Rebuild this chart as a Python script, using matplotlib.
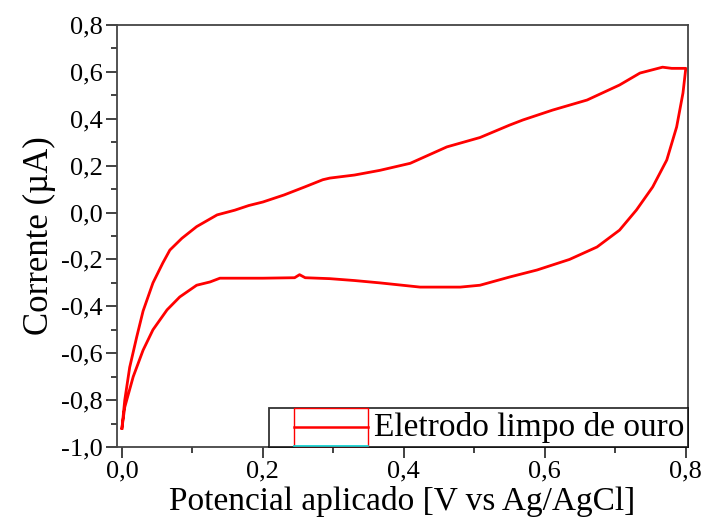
import matplotlib.pyplot as plt
from matplotlib.lines import Line2D
from matplotlib.patches import Rectangle
from matplotlib.legend_handler import HandlerBase
from matplotlib.ticker import MultipleLocator, FuncFormatter

plt.rcParams['font.family'] = ['Liberation Serif', 'DejaVu Serif']

# forward scan (0 -> 0.8 V)
v_fwd = [0.0, 0.004, 0.011, 0.021, 0.03, 0.044, 0.058, 0.068, 0.085, 0.106,
         0.135, 0.16, 0.18, 0.2, 0.23, 0.26, 0.285, 0.295, 0.33, 0.366, 0.409,
         0.461, 0.508, 0.55, 0.569, 0.611, 0.66, 0.706, 0.735, 0.767, 0.78, 0.8]
i_fwd = [-0.92, -0.80, -0.66, -0.53, -0.42, -0.30, -0.215, -0.16, -0.11, -0.06,
         -0.01, 0.01, 0.03, 0.045, 0.075, 0.11, 0.14, 0.147, 0.16, 0.18, 0.21,
         0.28, 0.32, 0.373, 0.395, 0.437, 0.48, 0.544, 0.595, 0.62, 0.615, 0.615]

# reverse scan (0.8 -> 0 V)
v_rev = [0.8, 0.796, 0.787, 0.773, 0.753, 0.73, 0.706, 0.674, 0.635, 0.589,
         0.55, 0.508, 0.48, 0.423, 0.366, 0.33, 0.295, 0.26, 0.252, 0.245,
         0.2, 0.153, 0.139, 0.125, 0.106, 0.082, 0.064, 0.044, 0.03, 0.016,
         0.004, 0.0]
i_rev = [0.615, 0.51, 0.365, 0.224, 0.109, 0.011, -0.075, -0.147, -0.20, -0.245,
         -0.275, -0.31, -0.318, -0.318, -0.30, -0.29, -0.282, -0.278, -0.265, -0.278,
         -0.28, -0.28, -0.28, -0.296, -0.31, -0.36, -0.415, -0.50, -0.587, -0.70,
         -0.83, -0.92]


class BoxLineHandler(HandlerBase):
    # open red box with a line through it, cyan edge along the bottom
    def create_artists(self, legend, orig_handle, xdescent, ydescent,
                       width, height, fontsize, trans):
        x0 = -xdescent + 0.225 * width
        x1 = width - xdescent
        y0 = -ydescent - 0.42 * height
        h = 1.6 * height
        box = Rectangle((x0, y0), x1 - x0, h,
                        facecolor='none', edgecolor='red', lw=1.0, transform=trans)
        mid = Line2D([x0, x1], [y0 + 0.5 * h] * 2,
                     color='red', lw=1.8, transform=trans)
        base = Line2D([x0, x1], [y0] * 2,
                      color='#00d8d8', lw=1.2, transform=trans)
        return [box, mid, base]


fig = plt.figure(figsize=(7.07, 5.27), dpi=100)
ax = fig.add_axes([0.1655, 0.1518, 0.8075, 0.8008])

ax.plot(v_fwd + v_rev, i_fwd + i_rev, color='red', lw=2)

ax.set_xlim(-0.007, 0.803)
ax.set_ylim(-1.0, 0.8)
ax.xaxis.set_major_locator(MultipleLocator(0.2))
ax.xaxis.set_minor_locator(MultipleLocator(0.1))
ax.yaxis.set_major_locator(MultipleLocator(0.2))
ax.yaxis.set_minor_locator(MultipleLocator(0.1))
comma = FuncFormatter(lambda val, pos: f"{val:.1f}".replace('.', ','))
ax.xaxis.set_major_formatter(comma)
ax.yaxis.set_major_formatter(comma)
ax.tick_params(which='both', direction='out', top=False, right=False,
               colors='#333333', labelcolor='black', labelsize=19, width=1.3,
               pad=2)
ax.tick_params(which='major', length=8)
ax.tick_params(which='minor', length=4)
for s in ax.spines.values():
    s.set_color('#444444')
    s.set_linewidth(1.3)

ax.set_xlabel('Potencial aplicado [V vs Ag/AgCl]', fontsize=24, labelpad=2)
ax.set_ylabel('Corrente (µA)', fontsize=25, labelpad=4)

proxy = Line2D([], [], color='red')
leg = ax.legend([proxy], ['Eletrodo limpo de ouro'], handler_map={Line2D: BoxLineHandler()},
                loc='lower right', fontsize=24, frameon=True, fancybox=False,
                borderaxespad=0.0, handlelength=2.85, handletextpad=0.18,
                borderpad=0.12)
leg.get_frame().set_edgecolor('black')
leg.get_frame().set_linewidth(1.3)

fig.savefig('out.png', dpi=100)
